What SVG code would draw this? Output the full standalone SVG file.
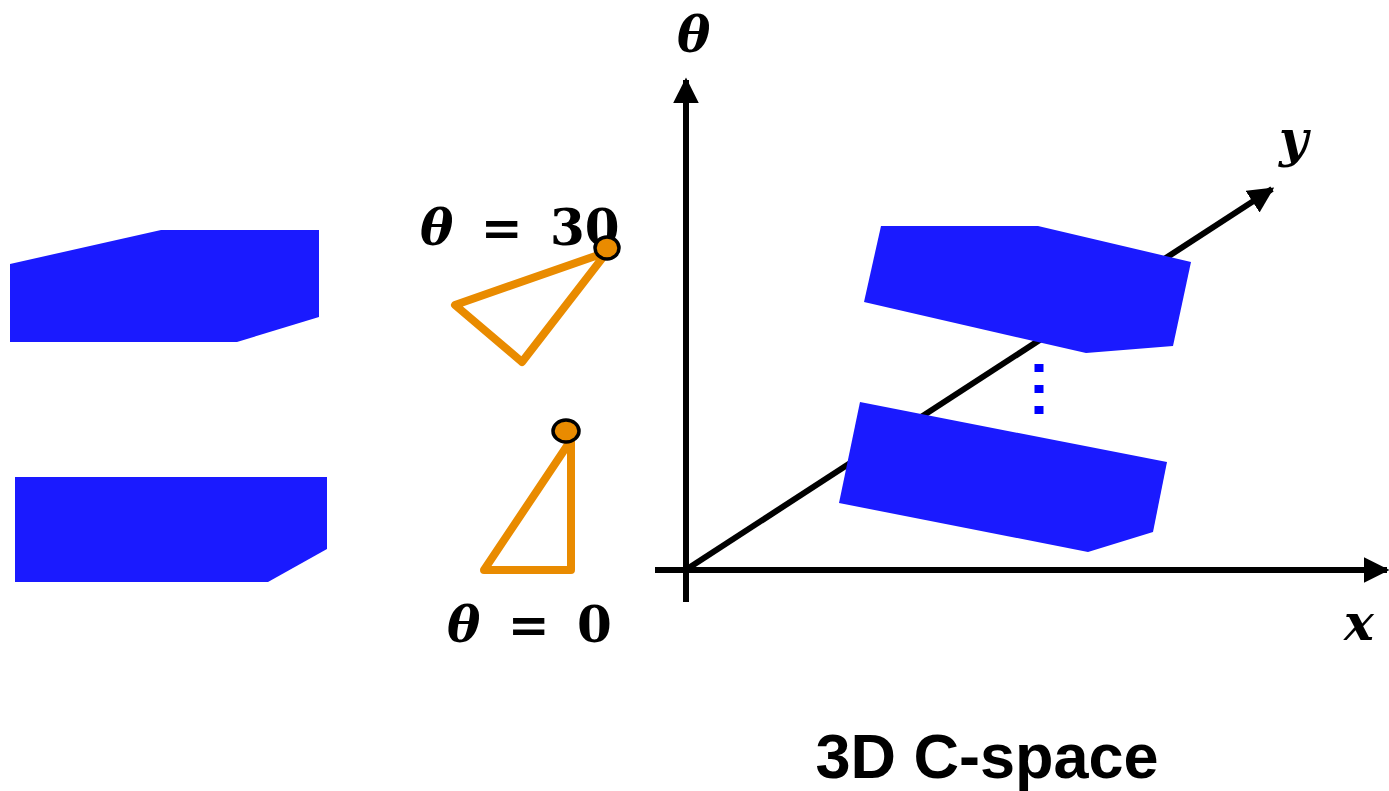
<svg xmlns="http://www.w3.org/2000/svg" width="1389" height="791" viewBox="0 0 1389 791">
<style>
.blk{fill:#1a1aff}
.tri{fill:none;stroke:#e98b00;stroke-width:8;stroke-linejoin:round;stroke-linecap:round}
.pin{fill:#e98b00;stroke:#000;stroke-width:3.5}
.ax{stroke:#000;stroke-width:6;fill:none}
.m{font-family:"DejaVu Serif","Liberation Serif",serif;font-weight:bold;fill:#000}
.mi{font-style:italic}
.lbl{font-family:"Liberation Sans",Arial,sans-serif;font-weight:bold;font-size:63px;fill:#000}
</style>
<defs>
<marker id="ah" viewBox="0 0 10 10" refX="9" refY="5" markerWidth="4.3" markerHeight="4.3" orient="auto" markerUnits="strokeWidth">
<path d="M0,0 L10,5 L0,10 z" fill="#000"/>
</marker>
</defs>
<g id="obstacle-left-top"><polygon class="blk" points="10,264 161,230 319,230 319,317 237,342 10,342"/></g>
<g id="obstacle-left-bottom"><polygon class="blk" points="15,477 327,477 327,549 268,582 15,582"/></g>
<g id="robot-30">
<text class="m" x="420" y="245" font-size="50" word-spacing="10"><tspan class="mi">θ</tspan> = 30</text>
<polygon class="tri" points="455,305 607,252 522,362"/>
<ellipse class="pin" cx="607" cy="248" rx="12" ry="11"/>
</g>
<g id="robot-0">
<polygon class="tri" points="571,440 571,570 484,570"/>
<ellipse class="pin" cx="566" cy="431" rx="13" ry="11"/>
<text class="m" x="447" y="642" font-size="50" word-spacing="10"><tspan class="mi">θ</tspan> = 0</text>
</g>
<g id="connectors">
<line class="ax" x1="686" y1="602" x2="686" y2="80" marker-end="url(#ah)"/>
<line class="ax" x1="655" y1="570" x2="1387" y2="570" marker-end="url(#ah)"/>
<line class="ax" x1="684" y1="571" x2="1272" y2="189" marker-end="url(#ah)"/>
</g>
<g id="cobstacle-top"><polygon class="blk" points="881,226 1038,226 1191,262 1173,346 1086,353 864,302"/></g>
<g id="cobstacle-bottom"><polygon class="blk" points="860,402 1167,462 1153,532 1088,552 839,503"/></g>
<g id="dots"><line x1="1039" y1="364" x2="1039" y2="417" stroke="#0000ff" stroke-width="9" stroke-dasharray="8,13"/></g>
<g id="axis-labels">
<text class="m mi" x="677" y="52" font-size="50">θ</text>
<text class="m mi" x="1279" y="156" font-size="50">y</text>
<text class="m mi" x="1344" y="640" font-size="50">x</text>
</g>
<g id="title"><text class="lbl" x="987" y="778" text-anchor="middle">3D C-space</text></g>
</svg>
